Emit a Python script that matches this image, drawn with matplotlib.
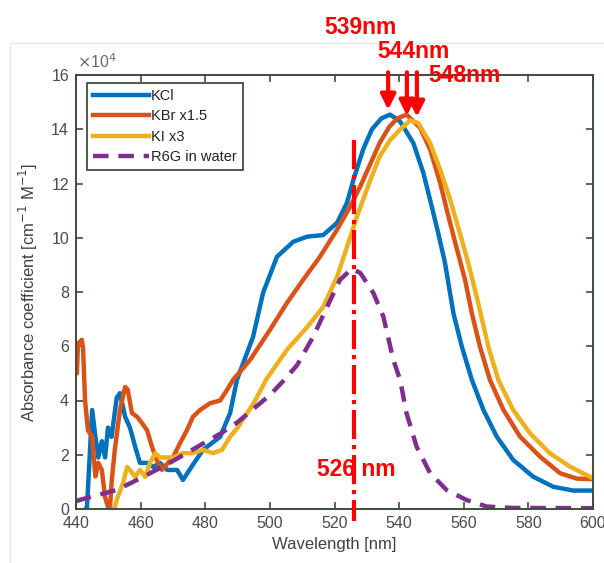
import matplotlib
matplotlib.use("Agg")
import matplotlib.pyplot as plt
from matplotlib.lines import Line2D

plt.rcParams['font.family'] = ['Liberation Sans', 'DejaVu Sans']

# ---- data (values in units of 1e4 cm^-1 M^-1) ----
kcl_wl = [443.0, 443.4, 445, 446, 446.9, 448, 449, 449.9, 451, 452.6, 453.6, 455.2, 456.7, 458.3,
          459.8, 462, 463.9, 466, 468.2, 471.3, 473.1, 476, 479.3, 484.6, 487.7, 489.8, 494.8,
          497.9, 502.2, 507.2, 511.5, 516.5, 520.8, 523.9, 526, 529, 531.6, 534.5, 537.2, 540.3,
          544.4, 547.5, 550.1, 552.1, 554.2, 556.8, 559.4, 562.5, 566.1, 570.2, 575.3, 581.5,
          587.7, 593.9, 600]
kcl_val = [0.0, 0.07, 3.65, 2.66, 1.9, 2.5, 1.9, 3.0, 2.66, 4.1, 4.27, 3.4, 3.0, 2.3,
           1.7, 1.7, 1.55, 1.7, 1.44, 1.44, 1.07, 1.6, 2.18, 2.66, 3.54, 4.76, 6.35,
           7.97, 9.3, 9.85, 10.04, 10.1, 10.55, 11.3, 12.2, 13.3, 14.0, 14.4, 14.54, 14.29,
           13.49, 12.39, 11.15, 10.17, 9.07, 7.22, 5.99, 4.76, 3.65, 2.67, 1.81, 1.19,
           0.82, 0.68, 0.68]

kbr_wl = [440.0, 440.3, 440.6, 441.8, 442.2, 442.8, 443.7, 445, 446, 446.9, 448, 449, 449.9, 450.5,
          451, 452, 453.6, 455.2, 456, 457.3, 458.9, 460.4, 462, 463.5, 465, 466.6, 468.5, 470,
          472.2, 474.3, 476.2, 478.4, 481.5, 484.6, 486.8, 488.6, 493.9, 500, 505.3, 510.3,
          515.5, 520.8, 524.8, 528, 531, 534, 537, 539.5, 542.3, 546.5, 549.6, 552.7, 555.0,
          557.4, 560.4, 562.5, 565.0, 568.1, 572.3, 577.4, 583.6, 589.8, 595, 600]
kbr_val = [5.3, 5.0, 6.1, 6.24, 5.9, 4.0, 2.9, 2.66, 1.2, 1.7, 1.44, 0.44, 0.07, 0.0,
           0.96, 2.18, 3.65, 4.5, 4.4, 3.54, 3.4, 3.17, 2.9, 2.3, 1.8, 1.44, 1.7, 1.9,
           2.43, 2.9, 3.4, 3.65, 3.9, 4.0, 4.4, 4.76, 5.5, 6.6, 7.6, 8.45,
           9.3, 10.3, 11.14, 11.9, 12.7, 13.5, 14.1, 14.4, 14.54, 14.05, 13.25, 12.02, 10.91,
           9.8, 8.45, 7.22, 5.99, 4.76, 3.65, 2.67, 1.93, 1.32, 1.12, 1.1]

ki_wl = [451.5, 452, 452.9, 454.6, 455.8, 456.7, 458.3, 459.8, 461.4, 462.9, 464.5, 466, 468.2,
         470, 473.1, 476.2, 479.3, 482.4, 485.2, 487.7, 490, 495, 499, 505.3, 511.5, 516.5,
         520.8, 523.9, 527, 531, 534, 537.2, 540.3, 543.4, 545.9, 549.6, 552.7, 555.8, 558.8,
         561.4, 564.0, 567.6, 570.7, 575.3, 580.5, 586.7, 592.9, 600]
ki_val = [0.0, 0.07, 0.44, 0.96, 1.55, 1.44, 1.18, 1.44, 1.18, 1.7, 2.06, 1.9, 1.9,
          1.9, 2.06, 2.06, 2.18, 2.06, 2.18, 2.66, 3.0, 3.9, 4.8, 5.87, 6.7, 7.45,
          8.56, 9.67, 10.8, 12.1, 13.0, 13.6, 13.99, 14.33, 14.23, 13.49, 12.51, 11.4, 10.17,
          9.07, 7.83, 5.99, 4.76, 3.65, 2.79, 2.05, 1.56, 1.13]

r6g_wl = [440, 441, 452.6, 460.7, 469, 478.4, 485, 490, 495, 500, 504, 508.4, 513.4, 517.7,
          521.7, 525.4, 528, 532, 535.1, 538.2, 540.3, 542.3, 545.4, 549.6, 554.7, 560.9,
          567.1, 575, 600]
r6g_val = [0.28, 0.33, 0.7, 1.18, 1.7, 2.35, 2.8, 3.2, 3.7, 4.2, 4.7, 5.3, 6.35, 7.45,
           8.45, 8.86, 8.7, 7.97, 7.1, 5.5, 4.76, 3.53, 2.3, 1.32, 0.7, 0.33,
           0.09, 0.04, 0.03]

labels = ["KCl", "KBr x1.5", "KI x3", "R6G in water"]
colors = ["#0072BD", "#D95319", "#EDB120", "#7E2F8E"]

peak_labels = ["539nm", "544nm", "548nm"]
peak_arrow_x = [536.6, 542.4, 545.5]
peak_arrow_tip = [14.72, 14.5, 14.46]
r6g_peak = 526

xticks = [440, 460, 480, 500, 520, 540, 560, 580, 600]
yticks = [0, 2, 4, 6, 8, 10, 12, 14, 16]

# ---- figure ----
W, H = 604, 563
fig = plt.figure(figsize=(W / 100, H / 100), dpi=100)
ax = fig.add_axes([76 / W, 1 - 509 / H, (593 - 76) / W, (509 - 75) / H])

# light slide frame
fig.add_artist(Line2D([10 / W, 1.0], [1 - 43 / H, 1 - 43 / H], color="#e6e6e6", lw=1))
fig.add_artist(Line2D([10 / W, 10 / W], [1 - 43 / H, 0], color="#e6e6e6", lw=1))

lw = 3.2
ax.plot(kcl_wl, kcl_val, color=colors[0], lw=lw, label=labels[0], solid_joinstyle='round')
ax.plot(kbr_wl, kbr_val, color=colors[1], lw=lw, label=labels[1], solid_joinstyle='round')
ax.plot(ki_wl, ki_val, color=colors[2], lw=lw, label=labels[2], solid_joinstyle='round')
ax.plot(r6g_wl, r6g_val, color=colors[3], lw=lw, label=labels[3], linestyle=(0, (3.5, 2.2)))

# R6G peak marker
ax.plot([r6g_peak, r6g_peak], [13.6, -0.45], color="#FF0000", lw=3.0,
        linestyle=(0, (7, 1.4, 1, 1.4)), clip_on=False, zorder=5)
ax.text(r6g_peak + 0.6, 1.45, "526 nm", color="#FF0000", fontsize=16.5, fontweight="bold",
        ha="center", va="center", zorder=6)

ax.set_xlim(440, 600)
ax.set_ylim(0, 16)
ax.set_xticks(xticks)
ax.set_yticks(yticks)

spine_c = "#3b4f3b"
for s in ax.spines.values():
    s.set_color(spine_c)
    s.set_linewidth(1.4)
ax.tick_params(direction="in", length=5, width=1.2, color=spine_c, top=True, right=True,
               labelsize=11.5, labelcolor="#4a4a4a", pad=5)

ax.set_xlabel("Wavelength [nm]", fontsize=12, color="#404040", labelpad=4)
ax.set_ylabel("Absorbance coefficient [cm$^{-1}$ M$^{-1}$]", fontsize=12, color="#404040",
              labelpad=8)

fig.text(77 / W, 1 - 62 / H, r"$\times$10$^{4}$", fontsize=11.5, color="#6a6a6a",
         ha="left", va="center")

leg = ax.legend(loc="upper left", bbox_to_anchor=(0.021, 0.982), borderaxespad=0,
                fancybox=False, edgecolor=spine_c, fontsize=10.5, handlelength=3.8,
                handletextpad=0.15, labelspacing=0.42, borderpad=0.45, framealpha=1)
leg.get_frame().set_linewidth(1.3)
for t in leg.get_texts():
    t.set_color("#222222")

# peak arrows and labels
label_pos_px = [(360, 27), (413, 52), (464, 76)]
for xa, tip, lab, (lx, ly) in zip(peak_arrow_x, peak_arrow_tip, peak_labels, label_pos_px):
    ax.annotate("", xy=(xa, tip), xytext=(xa, 16.1), xycoords="data", textcoords="data",
                arrowprops=dict(arrowstyle="-|>,head_length=0.9,head_width=0.45", color="#FF0000",
                                lw=3.0, shrinkA=0, shrinkB=0), annotation_clip=False)
    fig.text(lx / W, 1 - ly / H, lab, color="#FF0000", fontsize=16.5, fontweight="bold",
             ha="center", va="center")

fig.savefig("out.png", dpi=100)
